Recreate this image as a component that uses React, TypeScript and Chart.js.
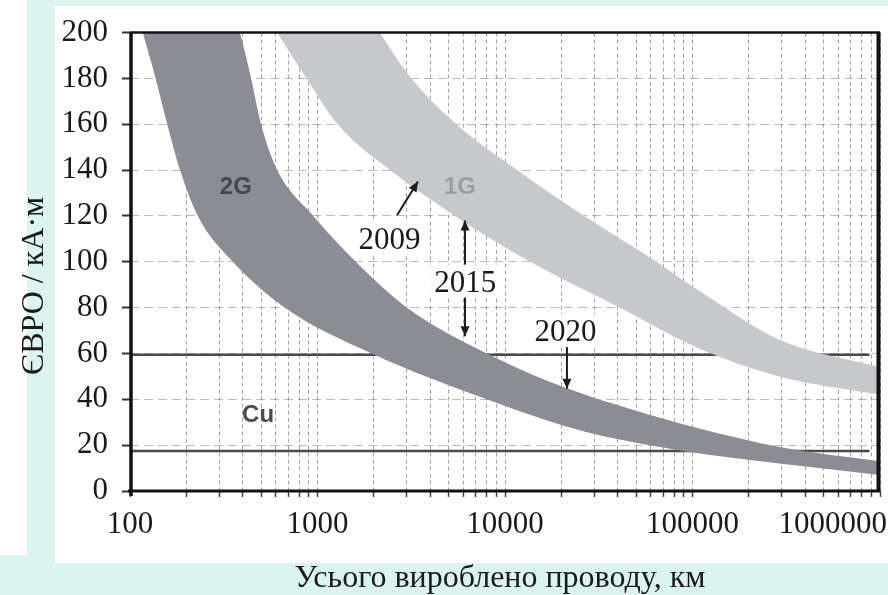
import React, { useEffect, useRef } from "react";
import { Chart, registerables } from "chart.js";

Chart.register(...registerables);

// ---------- data ----------
const X_TICK_LABELS = [100, 1000, 10000, 100000, 1000000];
const Y_MIN = 0;
const Y_MAX = 200;
const Y_STEP = 20;

// 1G band (light)
const band1GUpperX = [480, 1000, 2150, 3100, 5500, 11600, 26500, 59000, 110000, 290000, 1000000];
const band1GUpperY = [300, 245, 200, 181, 160, 140, 120, 102, 87, 66, 54];
const band1GLowerX = [480, 610, 860, 1280, 2440, 5400, 13600, 41000, 110000, 290000, 1000000];
const band1GLowerY = [215, 200, 181, 160, 140, 120, 100, 80, 62, 50, 42];

// 2G band (dark)
const band2GUpperX = [100, 200, 300, 386, 440, 500, 610, 950, 1600, 3000, 8000, 21000, 50000, 100000, 300000, 1000000];
const band2GUpperY = [400, 297, 236, 200, 181, 160, 140, 120, 100, 80, 60, 45, 35, 28, 19, 13];
const band2GLowerX = [100, 117, 136, 158, 185, 230, 354, 670, 1950, 7400, 25000, 86000, 290000, 1000000];
const band2GLowerY = [222, 200, 181, 160, 140, 120, 100, 80, 60, 41, 26.5, 17.7, 12, 7];

// Cu price levels
const cuLevels = [59.5, 17.5];
const cuRangeX = [100, 880000];

// annotations (data coordinates)
const bandLabels = [
  { text: "2G", x: 367, y: 132.5, color: "#45464e" },
  { text: "1G", x: 5750, y: 132.5, color: "#9c9da2" },
  { text: "Cu", x: 482, y: 33, color: "#4c4c4c" },
];
const yearLabels = [
  { text: "2009", x: 2420, y: 105.6 },
  { text: "2015", x: 6130, y: 87 },
  { text: "2020", x: 21000, y: 65.4 },
];
const arrows = [
  { x1: 2655, y1: 120.3, x2: 3435, y2: 135, both: false },
  { x1: 6120, y1: 118, x2: 6120, y2: 67.5, both: true },
  { x1: 21400, y1: 63.6, x2: 21400, y2: 44.6, both: false },
];

const X_TITLE = "Усього вироблено проводу, км";
const Y_TITLE = "ЄВРО / кА·м";

const zip = (xs: number[], ys: number[]) => xs.map((x, i) => ({ x, y: ys[i] }));

const SERIF = '"Liberation Serif", "Times New Roman", serif';
const SANS = '"Liberation Sans", Arial, sans-serif';

function drawHead(ctx: CanvasRenderingContext2D, fx: number, fy: number, tx: number, ty: number) {
  const ang = Math.atan2(ty - fy, tx - fx);
  const len = 10;
  const hw = 4.5;
  ctx.beginPath();
  ctx.moveTo(tx, ty);
  ctx.lineTo(tx - len * Math.cos(ang) + hw * Math.sin(ang), ty - len * Math.sin(ang) - hw * Math.cos(ang));
  ctx.lineTo(tx - len * Math.cos(ang) - hw * Math.sin(ang), ty - len * Math.sin(ang) + hw * Math.cos(ang));
  ctx.closePath();
  ctx.fill();
}

const overlayPlugin = {
  id: "overlay",
  afterDraw(chart: any) {
    const { ctx, chartArea: a } = chart;
    const xs = chart.scales.x;
    const ys = chart.scales.y;
    const px = (v: number) => xs.getPixelForValue(v);
    const py = (v: number) => ys.getPixelForValue(v);
    ctx.save();

    // band labels
    ctx.font = `bold 24px ${SANS}`;
    ctx.textAlign = "center";
    ctx.textBaseline = "middle";
    bandLabels.forEach((l) => {
      ctx.fillStyle = l.color;
      ctx.fillText(l.text, px(l.x), py(l.y));
    });

    // arrows
    ctx.strokeStyle = "#1e1e1e";
    ctx.fillStyle = "#1e1e1e";
    ctx.lineWidth = 2;
    arrows.forEach((ar) => {
      const x1 = px(ar.x1), y1 = py(ar.y1), x2 = px(ar.x2), y2 = py(ar.y2);
      ctx.beginPath();
      ctx.moveTo(x1, y1);
      ctx.lineTo(x2, y2);
      ctx.stroke();
      drawHead(ctx, x1, y1, x2, y2);
      if (ar.both) drawHead(ctx, x2, y2, x1, y1);
    });

    // year labels on white boxes
    ctx.font = `31px ${SERIF}`;
    ctx.textBaseline = "alphabetic";
    ctx.textAlign = "center";
    yearLabels.forEach((l) => {
      const x = px(l.x), y = py(l.y);
      const w = ctx.measureText(l.text).width;
      ctx.fillStyle = "#ffffff";
      ctx.fillRect(x - w / 2 - 4, y - 27, w + 8, 33);
      ctx.fillStyle = "#1a1a1a";
      ctx.fillText(l.text, x, y);
    });

    // frame
    ctx.strokeStyle = "#111";
    ctx.lineWidth = 2.5;
    ctx.beginPath();
    ctx.moveTo(a.left, a.top);
    ctx.lineTo(a.right, a.top);
    ctx.stroke();
    ctx.lineWidth = 4;
    ctx.beginPath();
    ctx.moveTo(a.right - 1.5, a.top);
    ctx.lineTo(a.right - 1.5, a.bottom);
    ctx.stroke();
    ctx.lineWidth = 3.5;
    ctx.beginPath();
    ctx.moveTo(a.left + 1, a.top);
    ctx.lineTo(a.left + 1, a.bottom + 5);
    ctx.stroke();
    ctx.lineWidth = 3;
    ctx.beginPath();
    ctx.moveTo(a.left - 2, a.bottom);
    ctx.lineTo(a.right, a.bottom);
    ctx.stroke();

    // x tick labels
    ctx.font = `31px ${SERIF}`;
    ctx.fillStyle = "#1a1a1a";
    ctx.textBaseline = "alphabetic";
    X_TICK_LABELS.forEach((v, i) => {
      const last = i === X_TICK_LABELS.length - 1;
      ctx.textAlign = last ? "right" : "center";
      ctx.fillText(String(v), last ? chart.width - 1 : px(v), a.bottom + 42);
    });

    // axis titles
    ctx.font = `32px ${SERIF}`;
    ctx.textAlign = "center";
    ctx.fillText(X_TITLE, (a.left + a.right) / 2 - 5, a.bottom + 96);
    ctx.save();
    ctx.translate(43, (a.top + a.bottom) / 2 + 24);
    ctx.rotate(-Math.PI / 2);
    ctx.fillText(Y_TITLE, 0, 0);
    ctx.restore();

    ctx.restore();
  },
};

export default function App() {
  const canvasRef = useRef<HTMLCanvasElement | null>(null);

  useEffect(() => {
    const canvas = canvasRef.current;
    if (!canvas) return;
    const edge = (data: any[], fill: any, color: string) => ({
      data,
      borderWidth: 0,
      borderColor: "rgba(0,0,0,0)",
      backgroundColor: color,
      pointRadius: 0,
      fill,
      tension: 0.4,
      cubicInterpolationMode: "monotone",
    });
    const cuLine = (level: number) => ({
      data: cuRangeX.map((x) => ({ x, y: level })),
      borderWidth: 2.5,
      borderColor: "#4a4a4a",
      pointRadius: 0,
      fill: false,
      tension: 0,
    });

    const chart = new Chart(canvas, {
      type: "line",
      data: {
        datasets: [
          edge(zip(band1GUpperX, band1GUpperY), false, "#c7c8cc"),
          edge(zip(band1GLowerX, band1GLowerY), "-1", "#c7c8cc"),
          edge(zip(band2GUpperX, band2GUpperY), false, "#8b8c94"),
          edge(zip(band2GLowerX, band2GLowerY), "-1", "#8b8c94"),
          cuLine(cuLevels[0]),
          cuLine(cuLevels[1]),
        ] as any,
      },
      options: {
        animation: false,
        responsive: false,
        devicePixelRatio: 1,
        events: [],
        layout: { padding: { top: 28, right: 8, left: 0, bottom: 0 } },
        plugins: { legend: { display: false }, tooltip: { enabled: false } },
        scales: {
          x: {
            type: "logarithmic",
            min: X_TICK_LABELS[0],
            max: X_TICK_LABELS[X_TICK_LABELS.length - 1],
            z: 1,
            ticks: { display: false },
            grid: {
              color: "rgba(70,70,70,0.5)",
              lineWidth: 1,
              tickLength: 6,
              tickColor: "#444",
              tickWidth: 1.5,
            },
            border: { display: false, dash: [4, 3] },
            afterBuildTicks: (scale: any) => {
              const vals: number[] = [];
              X_TICK_LABELS.forEach((d, i) => {
                vals.push(d);
                if (i < X_TICK_LABELS.length - 1) for (let m = 2; m <= 9; m++) vals.push(d * m);
              });
              scale.ticks = vals.map((value) => ({ value }));
            },
            afterFit: (scale: any) => {
              scale.height = 104;
            },
          },
          y: {
            type: "linear",
            min: Y_MIN,
            max: Y_MAX,
            z: 1,
            ticks: {
              stepSize: Y_STEP,
              autoSkip: false,
              padding: 14,
              color: "#1a1a1a",
              font: { family: SERIF, size: 31 },
            },
            grid: {
              color: "rgba(90,90,90,0.4)",
              lineWidth: 1,
              tickLength: 8,
              tickColor: "#333",
              tickWidth: 2,
            },
            border: { display: false, dash: [9, 5] },
            afterFit: (scale: any) => {
              scale.width = 130;
            },
          },
        },
      } as any,
      plugins: [overlayPlugin],
    });
    return () => chart.destroy();
  }, []);

  return (
    <div
      style={{
        position: "fixed",
        left: 0,
        top: 0,
        width: 888,
        height: 595,
        background: "#dcf4f0",
        overflow: "hidden",
      }}
    >
      <div style={{ position: "absolute", left: 0, top: 0, width: 27, height: 555, background: "#fff" }} />
      <div style={{ position: "absolute", left: 55, top: 6, width: 833, height: 557, background: "#fff" }} />
      <canvas
        ref={canvasRef}
        width={888}
        height={595}
        style={{ position: "absolute", left: 0, top: 0, width: 888, height: 595 }}
      />
    </div>
  );
}
